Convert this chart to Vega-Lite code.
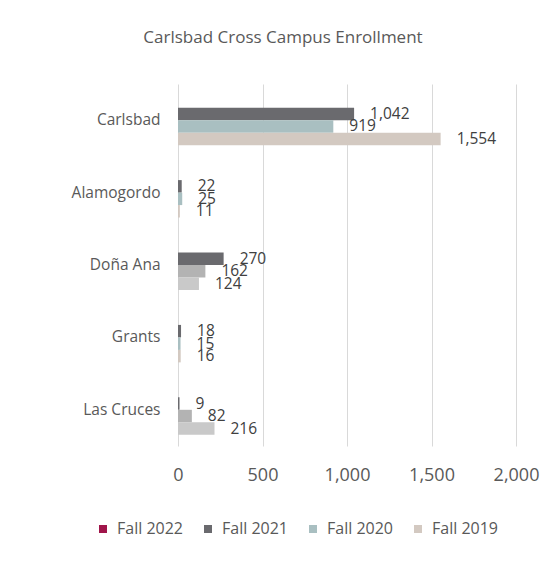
{
  "$schema": "https://vega.github.io/schema/vega-lite/v6.json",
  "width": 338,
  "height": 362,
  "autosize": {"type": "none"},
  "padding": {"left": 178, "top": 84, "right": 44, "bottom": 117},
  "background": "white",
  "title": {
    "text": "Carlsbad Cross Campus Enrollment",
    "fontSize": 17,
    "fontWeight": "normal",
    "color": "#595959",
    "anchor": "middle",
    "offset": 37,
    "dx": -64
  },
  "data": {
    "values": [
      {"campus": "Carlsbad", "term": "Fall 2022", "value": 0},
      {"campus": "Carlsbad", "term": "Fall 2021", "value": 1042},
      {"campus": "Carlsbad", "term": "Fall 2020", "value": 919},
      {"campus": "Carlsbad", "term": "Fall 2019", "value": 1554},
      {"campus": "Alamogordo", "term": "Fall 2022", "value": 0},
      {"campus": "Alamogordo", "term": "Fall 2021", "value": 22},
      {"campus": "Alamogordo", "term": "Fall 2020", "value": 25},
      {"campus": "Alamogordo", "term": "Fall 2019", "value": 11},
      {"campus": "Doña Ana", "term": "Fall 2022", "value": 0},
      {"campus": "Doña Ana", "term": "Fall 2021", "value": 270},
      {"campus": "Doña Ana", "term": "Fall 2020", "value": 162},
      {"campus": "Doña Ana", "term": "Fall 2019", "value": 124},
      {"campus": "Grants", "term": "Fall 2022", "value": 0},
      {"campus": "Grants", "term": "Fall 2021", "value": 18},
      {"campus": "Grants", "term": "Fall 2020", "value": 15},
      {"campus": "Grants", "term": "Fall 2019", "value": 16},
      {"campus": "Las Cruces", "term": "Fall 2022", "value": 0},
      {"campus": "Las Cruces", "term": "Fall 2021", "value": 9},
      {"campus": "Las Cruces", "term": "Fall 2020", "value": 82},
      {"campus": "Las Cruces", "term": "Fall 2019", "value": 216}
    ]
  },
  "encoding": {
    "y": {
      "field": "campus",
      "type": "nominal",
      "sort": ["Carlsbad", "Alamogordo", "Doña Ana", "Grants", "Las Cruces"],
      "scale": {"paddingInner": 0.31, "paddingOuter": 0.155},
      "axis": {
        "title": null,
        "domain": false,
        "ticks": false,
        "labelFontSize": 15.5,
        "labelColor": "#595959",
        "labelPadding": 18
      }
    },
    "yOffset": {
      "field": "term",
      "type": "nominal",
      "scale": {"domain": ["Fall 2022", "Fall 2021", "Fall 2020", "Fall 2019"], "paddingInner": 0, "paddingOuter": 0}
    },
    "x": {
      "field": "value",
      "type": "quantitative",
      "scale": {"domain": [0, 2000], "nice": false},
      "axis": {
        "title": null,
        "values": [0, 500, 1000, 1500, 2000],
        "format": ",.0f",
        "domain": false,
        "ticks": false,
        "grid": true,
        "gridColor": "#d9d9d9",
        "labelFlush": false,
        "labelOverlap": false,
        "labelFontSize": 18,
        "labelColor": "#595959",
        "labelPadding": 20
      }
    }
  },
  "layer": [
    {
      "mark": {"type": "bar"},
      "encoding": {
        "color": {
          "field": "term",
          "type": "nominal",
          "scale": {
            "domain": ["Fall 2022", "Fall 2021", "Fall 2020", "Fall 2019"],
            "range": ["#a0154a", "#6a6a6e", "#a9bfc1", "#d3c9c1"]
          },
          "legend": {
            "title": null,
            "orient": "none",
            "direction": "horizontal",
            "columns": 4,
            "legendX": -83,
            "legendY": 437,
            "symbolType": "square",
            "symbolSize": 64,
            "symbolStrokeWidth": 0,
            "labelFontSize": 16,
            "labelColor": "#595959",
            "labelOffset": 6,
            "columnPadding": 17
          },
          "condition": [
            {"test": "(datum.campus === 'Doña Ana' || datum.campus === 'Las Cruces') && datum.term === 'Fall 2020'", "value": "#b3b3b3"},
            {"test": "(datum.campus === 'Doña Ana' || datum.campus === 'Las Cruces') && datum.term === 'Fall 2019'", "value": "#c9c9c9"}
          ]
        }
      }
    },
    {
      "transform": [{"filter": "datum.value > 0"}],
      "mark": {"type": "text", "align": "left", "baseline": "middle", "dx": 16, "fontSize": 15.5, "color": "#404040"},
      "encoding": {
        "text": {"field": "value", "type": "quantitative", "format": ","}
      }
    }
  ],
  "config": {
    "font": "Open Sans",
    "view": {"stroke": null}
  }
}
